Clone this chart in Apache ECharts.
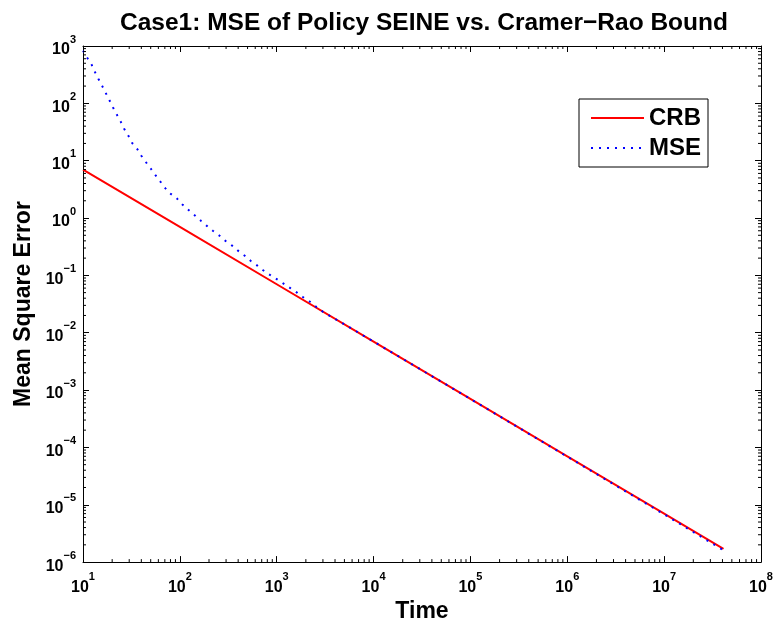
<!DOCTYPE html>
<html>
<head>
<meta charset="utf-8">
<script src="https://cdn.jsdelivr.net/npm/echarts@6/dist/echarts.min.js"></script>
<style>
  html, body { margin: 0; padding: 0; background: #fff; }
  #main { width: 777px; height: 628px; }
</style>
</head>
<body>
<div id="main"></div>
<script>
// values
const crbTime = [10, 100, 1000, 1e4, 1e5, 1e6, 1e7, 4.1e7];
const crbValue = [7.0, 0.70, 0.070, 0.0070, 7.0e-4, 7.0e-5, 7.0e-6, 1.7e-6];

const mseTime = [10, 11, 12.3, 13.3, 14.5, 15.8, 17.3, 18.8, 20.4, 22.4, 24.5, 26.6, 29.5, 32.4, 36.3, 40,
  44.7, 50, 56, 63, 71, 79, 93, 107, 125, 144, 166, 190, 219, 257, 295, 347, 398, 468, 537, 631, 724, 851,
  1000, 1175, 1380, 1620, 1862, 2188, 2570, 3020, 5000, 1e4, 1e5, 1e6, 1e7, 4.0e7];
const mseValue = [830, 630, 470, 350, 263, 200, 148, 112, 85, 63, 48, 36, 27, 20, 16, 12.2,
  9.4, 7.3, 5.6, 4.3, 3.3, 2.7, 2.2, 1.7, 1.35, 1.1, 0.89, 0.73, 0.60, 0.49, 0.40, 0.33, 0.27, 0.22, 0.18, 0.148, 0.123, 0.102,
  0.086, 0.072, 0.060, 0.050, 0.042, 0.035, 0.028, 0.023, 0.0140, 0.0070, 7.0e-4, 6.9e-5, 6.8e-6, 1.65e-6];

const xMin = 10, xMax = 1e8;
const yMin = 1e-6, yMax = 1e3;

const font = 'Liberation Sans, Arial, Helvetica, sans-serif';

// minor tick positions (2..9 x 10^k) for the box
function minorTicks (lo, hi) {
  let out = [];
  for (let d = lo; d < hi; d *= 10) {
    for (let m = 2; m <= 9; m++) out.push(m * d);
  }
  return out;
}
const xMinor = minorTicks(xMin, xMax);
const yMinor = minorTicks(yMin, yMax);

function powLabel (value) {
  let e = Math.round(Math.log10(value));
  let s = e < 0 ? '\u2212' + (-e) : '' + e;
  return '{b|10}{s|' + s + '}';
}
const labelRich = {
  b: { fontSize: 16, fontWeight: 'bold', fontFamily: font, color: '#000', padding: [8, 0, 0, 0] },
  s: { fontSize: 11, fontWeight: 'bold', fontFamily: font, color: '#000', verticalAlign: 'top' }
};

function pair (xs, ys) {
  return xs.map(function (x, i) { return [x, ys[i]] })
}

let myChart = echarts.init(document.getElementById('main'));

let boxLine = { show: true, onZero: false, lineStyle: { color: '#000', width: 1 } };
let majorTick = { show: true, inside: true, length: 6, lineStyle: { color: '#000', width: 1 } };

let option = {
  backgroundColor: '#fff',
  animation: false,
  title: {
    text: 'Case1: MSE of Policy SEINE vs. Cramer\u2212Rao Bound',
    left: 419,
    textAlign: 'center',
    top: 6,
    textStyle: { fontFamily: font, fontSize: 24.5, fontWeight: 'bold', color: '#000' }
  },
  legend: {
    data: ['CRB', 'MSE'],
    orient: 'vertical',
    left: 579,
    top: 99,
    padding: [7, 7, 7, 11],
    itemWidth: 53,
    itemHeight: 24,
    itemGap: 6,
    borderColor: '#000',
    borderWidth: 1,
    backgroundColor: '#fff',
    itemStyle: { opacity: 0 },
    textStyle: { fontFamily: font, fontSize: 24, fontWeight: 'bold', color: '#000', lineHeight: 24 }
  },
  grid: { left: 83, right: 16, top: 46, bottom: 64, containLabel: false },
  xAxis: [
    {
      type: 'log', logBase: 10, min: xMin, max: xMax,
      name: 'Time', nameLocation: 'middle', nameGap: 33,
      nameTextStyle: { fontFamily: font, fontSize: 23, fontWeight: 'bold', color: '#000' },
      axisLine: boxLine, axisTick: majorTick,
      axisLabel: { margin: 9, formatter: powLabel, rich: labelRich },
      splitLine: { show: false }
    },
    {
      type: 'log', logBase: 10, min: xMin, max: xMax, position: 'top',
      axisLine: boxLine, axisTick: majorTick, axisLabel: { show: false }, splitLine: { show: false }
    }
  ],
  yAxis: [
    {
      type: 'log', logBase: 10, min: yMin, max: yMax,
      name: 'Mean Square Error', nameLocation: 'middle', nameGap: 48, nameRotate: 90,
      nameTextStyle: { fontFamily: font, fontSize: 23, fontWeight: 'bold', color: '#000' },
      axisLine: boxLine, axisTick: majorTick,
      axisLabel: { margin: 7, formatter: powLabel, rich: labelRich },
      splitLine: { show: false }
    },
    {
      type: 'log', logBase: 10, min: yMin, max: yMax, position: 'right',
      axisLine: boxLine, axisTick: majorTick, axisLabel: { show: false }, splitLine: { show: false }
    }
  ],
  series: [
    {
      name: 'CRB',
      type: 'line',
      data: pair(crbTime, crbValue),
      symbol: 'none',
      color: '#ff0000',
      lineStyle: { color: '#ff0000', width: 2 },
      z: 3
    },
    {
      name: 'MSE',
      type: 'line',
      data: pair(mseTime, mseValue),
      symbol: 'none',
      color: '#0000ff',
      lineStyle: { color: '#0000ff', width: 2, type: [2, 6] },
      z: 4
    },
    {
      // minor ticks on bottom and top
      type: 'custom',
      silent: true,
      data: xMinor.map(function (v) { return [v, yMin] }),
      renderItem: function (params, api) {
        let b = api.coord([api.value(0), yMin]);
        let t = api.coord([api.value(0), yMax]);
        let st = { stroke: '#000', lineWidth: 1 };
        return {
          type: 'group',
          children: [
            { type: 'line', shape: { x1: b[0], y1: b[1], x2: b[0], y2: b[1] - 3 }, style: st },
            { type: 'line', shape: { x1: t[0], y1: t[1], x2: t[0], y2: t[1] + 3 }, style: st }
          ]
        };
      },
      z: 5
    },
    {
      // minor ticks on left and right
      type: 'custom',
      silent: true,
      data: yMinor.map(function (v) { return [xMin, v] }),
      renderItem: function (params, api) {
        let l = api.coord([xMin, api.value(1)]);
        let r = api.coord([xMax, api.value(1)]);
        let st = { stroke: '#000', lineWidth: 1 };
        return {
          type: 'group',
          children: [
            { type: 'line', shape: { x1: l[0], y1: l[1], x2: l[0] + 3, y2: l[1] }, style: st },
            { type: 'line', shape: { x1: r[0], y1: r[1], x2: r[0] - 3, y2: r[1] }, style: st }
          ]
        };
      },
      z: 5
    }
  ]
};

myChart.setOption(option, true);
window.addEventListener('resize', () => { myChart.resize(); });
</script>
</body>
</html>
